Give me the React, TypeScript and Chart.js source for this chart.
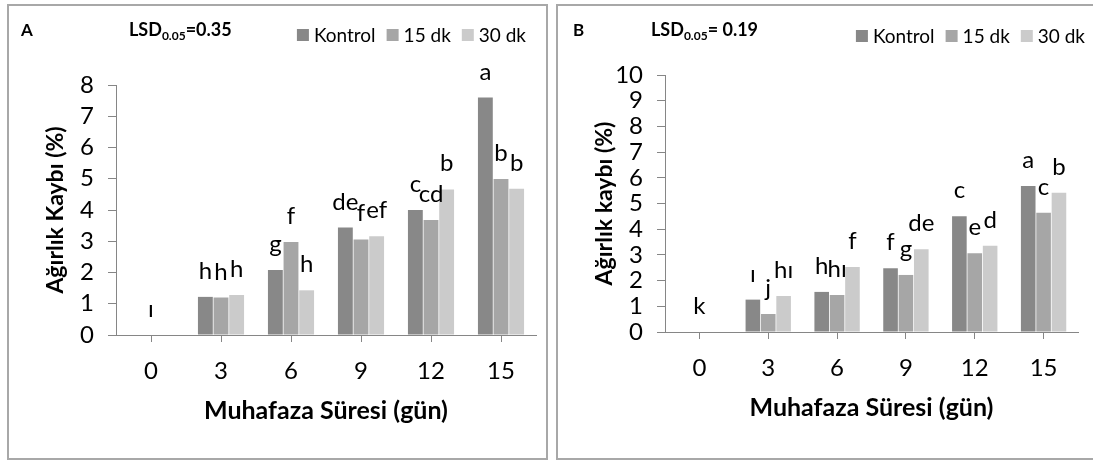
import React, { useEffect, useRef } from "react";
import { Chart, registerables } from "chart.js";

Chart.register(...registerables);

// ---------- data ----------
const categories = ["0", "3", "6", "9", "12", "15"];
const seriesNames = ["Kontrol", "15 dk", "30 dk"];

const aKontrol = [0, 1.22, 2.08, 3.44, 4.0, 7.6];
const a15dk = [0, 1.2, 2.98, 3.06, 3.68, 4.99];
const a30dk = [0, 1.28, 1.43, 3.16, 4.66, 4.68];
const aLettersKontrol = ["", "h", "g", "de", "c", "a"];
const aLetters15dk = ["ı", "h", "f", "f", "cd", "b"];
const aLetters30dk = ["", "h", "h", "ef", "b", "b"];

const bKontrol = [0, 1.26, 1.56, 2.48, 4.5, 5.68];
const b15dk = [0, 0.7, 1.44, 2.22, 3.06, 4.64];
const b30dk = [0, 1.4, 2.53, 3.22, 3.36, 5.42];
const bLettersKontrol = ["", "ı", "h", "f", "c", "a"];
const bLetters15dk = ["k", "j", "hı", "g", "e", "c"];
const bLetters30dk = ["", "hı", "f", "de", "d", "b"];

const aYMax = 8;
const bYMax = 10;
const aLsd = "0.35";
const bLsd = " 0.19";

// ---------- styles ----------
const barColors = ["#888888", "#a6a6a6", "#cbcbcb"];
const axisColor = "#868686";
const FONT = "Lato, 'Open Sans', sans-serif";

type PanelProps = {
  series: number[][];
  letters: string[][];
  yMax: number;
  panelLabel: string;
  lsd: string;
  yTitle: string;
  left: number;
  rightPad: number;
  topPad: number;
  xHeight: number;
  labelX: number;
  lsdX: number;
  legendRight: number;
  legendY: number;
};

function Panel(p: PanelProps) {
  const ref = useRef<HTMLCanvasElement | null>(null);

  useEffect(() => {
    const canvas = ref.current;
    if (!canvas) return;

    const overlay = {
      id: "overlay",
      afterDatasetsDraw(chart: any) {
        const ctx = chart.ctx as CanvasRenderingContext2D;
        ctx.save();
        ctx.fillStyle = "#000";
        ctx.font = `24px ${FONT}`;
        ctx.textAlign = "center";
        ctx.textBaseline = "alphabetic";
        chart.data.datasets.forEach((_ds: any, i: number) => {
          const meta = chart.getDatasetMeta(i);
          meta.data.forEach((el: any, j: number) => {
            const t = p.letters[i][j];
            if (t) ctx.fillText(t, el.x, el.y - 18);
          });
        });
        ctx.restore();
      },
      afterDraw(chart: any) {
        const ctx = chart.ctx as CanvasRenderingContext2D;
        const area = chart.chartArea;
        ctx.save();
        ctx.fillStyle = "#000";
        // axis titles
        ctx.font = `bold 25px ${FONT}`;
        ctx.textAlign = "center";
        ctx.textBaseline = "alphabetic";
        ctx.fillText("Muhafaza Süresi (gün)", (area.left + area.right) / 2, area.bottom + 84);
        ctx.save();
        ctx.translate(47, (area.top + area.bottom) / 2);
        ctx.rotate(-Math.PI / 2);
        ctx.textBaseline = "middle";
        ctx.font = `bold 23px ${FONT}`;
        ctx.fillText(p.yTitle, 0, 0);
        ctx.restore();

        // panel label and LSD
        ctx.textAlign = "left";
        ctx.textBaseline = "alphabetic";
        ctx.font = `bold 17px ${FONT}`;
        ctx.fillText(p.panelLabel, p.labelX, 30);
        let x = p.lsdX;
        ctx.font = `bold 18px ${FONT}`;
        ctx.fillText("LSD", x, 30);
        x += ctx.measureText("LSD").width;
        ctx.font = `bold 12px ${FONT}`;
        ctx.fillText("0.05", x, 34);
        x += ctx.measureText("0.05").width;
        ctx.font = `bold 18px ${FONT}`;
        ctx.fillText("=" + p.lsd, x, 30);

        // legend
        ctx.font = `19px ${FONT}`;
        ctx.textBaseline = "middle";
        const box = 12;
        const gapText = 5;
        const gapItem = 11;
        const widths = seriesNames.map((n) => ctx.measureText(n).width);
        let total = 0;
        widths.forEach((w, i) => {
          total += box + gapText + w + (i < widths.length - 1 ? gapItem : 0);
        });
        let lx = p.legendRight - total;
        seriesNames.forEach((n, i) => {
          ctx.fillStyle = barColors[i];
          ctx.fillRect(lx, p.legendY - box / 2, box, box);
          lx += box + gapText;
          ctx.fillStyle = "#000";
          ctx.fillText(n, lx, p.legendY + 1);
          lx += widths[i] + gapItem;
        });
        ctx.restore();
      },
    };

    const chart = new Chart(canvas, {
      type: "bar",
      data: {
        labels: categories,
        datasets: p.series.map((d, i) => ({
          label: seriesNames[i],
          data: d,
          backgroundColor: barColors[i],
          categoryPercentage: 0.67,
          barPercentage: 0.95,
        })),
      },
      options: {
        animation: false,
        responsive: false,
        maintainAspectRatio: false,
        layout: { padding: { top: p.topPad, right: p.rightPad, left: 0, bottom: 0 } },
        plugins: { legend: { display: false }, tooltip: { enabled: false } },
        scales: {
          x: {
            grid: { offset: false, drawOnChartArea: false, drawTicks: true, tickLength: 7, color: axisColor },
            border: { display: true, color: axisColor, width: 1 },
            ticks: { color: "#000", font: { family: FONT, size: 24 }, padding: 15, maxRotation: 0 },
            afterFit: (s: any) => {
              s.height = p.xHeight;
            },
          },
          y: {
            min: 0,
            max: p.yMax,
            grid: { drawOnChartArea: false, drawTicks: true, tickLength: 8, color: axisColor },
            border: { display: true, color: axisColor, width: 1 },
            ticks: {
              stepSize: 1,
              autoSkip: false,
              maxTicksLimit: 20,
              color: "#000",
              font: { family: FONT, size: 24, lineHeight: 0.9 },
              padding: 14,
            },
            afterFit: (s: any) => {
              s.width = 107;
            },
          },
        },
      },
      plugins: [overlay],
    } as any);

    return () => chart.destroy();
  }, []);

  return (
    <div
      style={{
        position: "absolute",
        left: p.left,
        top: 4,
        width: 541,
        height: 456,
        border: "2px solid #a8a8a8",
        boxSizing: "border-box",
        background: "#fff",
      }}
    >
      <canvas ref={ref} width={537} height={452} style={{ display: "block", width: 537, height: 452 }} />
    </div>
  );
}

export default function App() {
  return (
    <div style={{ position: "absolute", left: 0, top: 0, width: 1093, height: 460, overflow: "hidden", background: "#fff" }}>
      <Panel
        series={[aKontrol, a15dk, a30dk]}
        letters={[aLettersKontrol, aLetters15dk, aLetters30dk]}
        yMax={aYMax}
        panelLabel="A"
        lsd={aLsd}
        yTitle="Ağırlık Kaybı (%)"
        left={7}
        rightPad={10}
        topPad={79}
        xHeight={123}
        labelX={12}
        lsdX={120}
        legendRight={517}
        legendY={29}
      />
      <Panel
        series={[bKontrol, b15dk, b30dk]}
        letters={[bLettersKontrol, bLetters15dk, bLetters30dk]}
        yMax={bYMax}
        panelLabel="B"
        lsd={bLsd}
        yTitle="Ağırlık kaybı (%)"
        left={556}
        rightPad={17}
        topPad={69}
        xHeight={126}
        labelX={15}
        lsdX={93}
        legendRight={527}
        legendY={30}
      />
    </div>
  );
}
